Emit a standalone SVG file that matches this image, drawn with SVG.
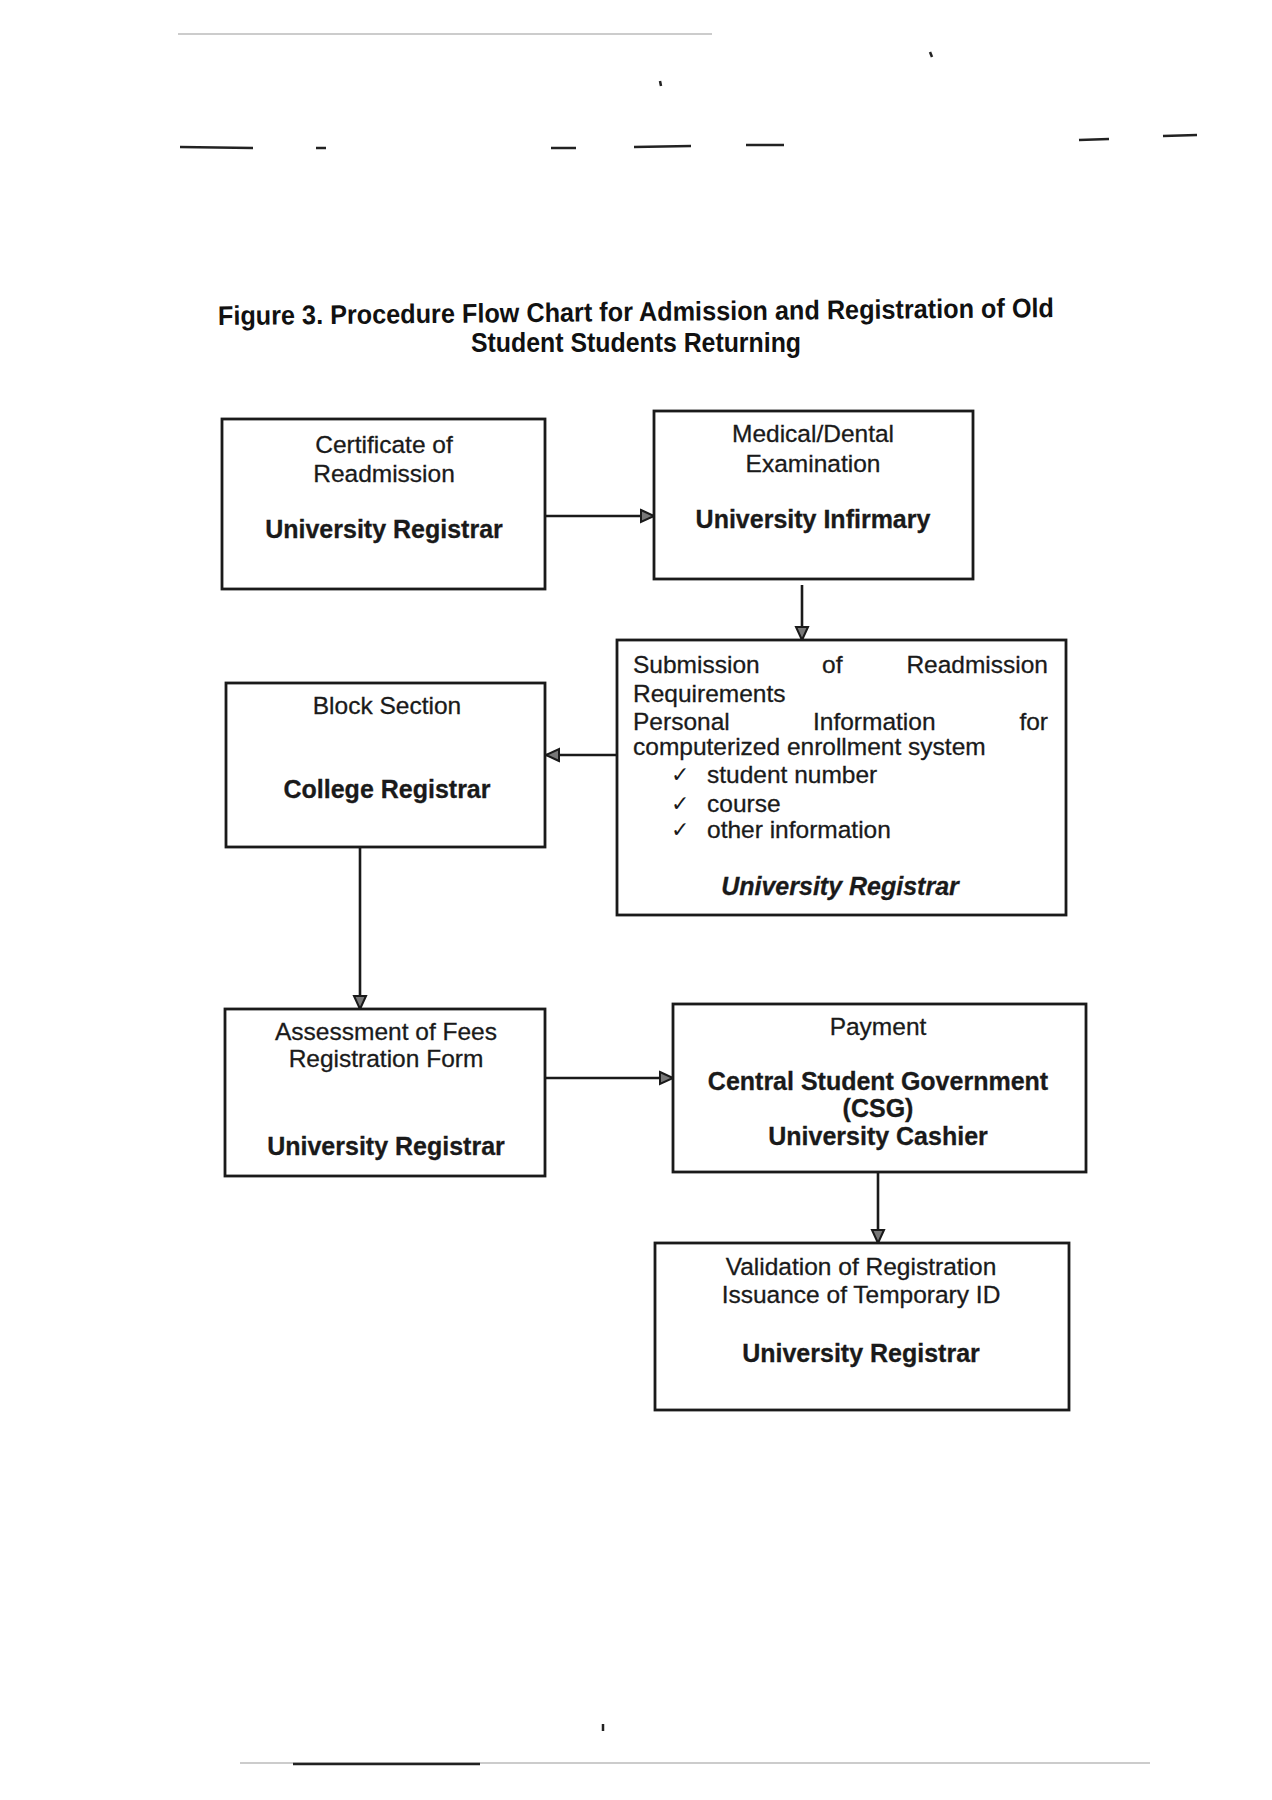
<svg xmlns="http://www.w3.org/2000/svg" width="1272" height="1800" viewBox="0 0 1272 1800">
  <defs>
    <marker id="arrow" markerUnits="userSpaceOnUse" markerWidth="18" markerHeight="18" refX="14" refY="8" orient="auto">
      <path d="M1,2 L14,8 L1,14 Z" fill="#777" stroke="#1a1a1a" stroke-width="2"/>
    </marker>
    <style>
      .box { fill: #ffffff; stroke: #1a1a1a; stroke-width: 2.8; }
      .t { font-family: "Liberation Sans", Arial, sans-serif; font-size: 24.5px; fill: #1a1a1a; stroke: #1a1a1a; stroke-width: 0.3; }
      .tc { text-anchor: middle; }
      .b { font-weight: bold; font-size: 25px; }
      .i { font-style: italic; }
      .chk { font-family: "DejaVu Sans", sans-serif; font-size: 22px; fill: #1a1a1a; }
      .title { font-family: "Liberation Sans", Arial, sans-serif; font-weight: bold; font-size: 27px; fill: #111; text-anchor: middle; }
      .conn { stroke: #1a1a1a; stroke-width: 2.6; fill: none; marker-end: url(#arrow); }
      .mark { stroke: #222; stroke-width: 2.5; fill: none; }
      .faint { stroke: #bbb; stroke-width: 1.5; fill: none; }
    </style>
  </defs>
  <rect width="1272" height="1800" fill="#ffffff"/>

  <g id="scan-marks">
    <line class="faint" x1="178" y1="34" x2="712" y2="34"/>
    <line class="mark" x1="180" y1="147" x2="253" y2="148"/>
    <line class="mark" x1="316" y1="148" x2="326" y2="148"/>
    <line class="mark" x1="551" y1="148" x2="576" y2="148"/>
    <line class="mark" x1="634" y1="147" x2="691" y2="146"/>
    <line class="mark" x1="746" y1="145" x2="784" y2="145"/>
    <line class="mark" x1="1079" y1="140" x2="1109" y2="139"/>
    <line class="mark" x1="1163" y1="136" x2="1197" y2="135"/>
    <line class="mark" x1="930" y1="52" x2="932" y2="57"/>
    <line class="mark" x1="660" y1="81" x2="661" y2="86"/>
    <line class="faint" x1="240" y1="1763" x2="1150" y2="1763"/>
    <line class="mark" x1="293" y1="1764" x2="480" y2="1764"/>
    <line class="mark" x1="603" y1="1724" x2="603" y2="1731"/>
  </g>

  <g id="title">
    <text class="title" x="636" y="321" textLength="836" lengthAdjust="spacingAndGlyphs" transform="rotate(-0.55 636 321)">Figure 3. Procedure Flow Chart for Admission and Registration of Old</text>
    <text class="title" x="636" y="352" textLength="330" lengthAdjust="spacingAndGlyphs">Student Students Returning</text>
  </g>

  <g id="connectors">
    <line class="conn" x1="545" y1="516" x2="654" y2="516"/>
    <line class="conn" x1="802" y1="585" x2="802" y2="640"/>
    <line class="conn" x1="617" y1="755" x2="546" y2="755"/>
    <line class="conn" x1="360" y1="848" x2="360" y2="1009"/>
    <line class="conn" x1="545" y1="1078" x2="673" y2="1078"/>
    <line class="conn" x1="878" y1="1172" x2="878" y2="1243"/>
  </g>

  <g id="node-certificate">
    <rect class="box" x="222" y="419" width="323" height="170"/>
    <text class="t tc" x="384" y="453">Certificate of</text>
    <text class="t tc" x="384" y="482">Readmission</text>
    <text class="t tc b" x="384" y="538">University Registrar</text>
  </g>

  <g id="node-medical">
    <rect class="box" x="654" y="411" width="319" height="168"/>
    <text class="t tc" x="813" y="442">Medical/Dental</text>
    <text class="t tc" x="813" y="472">Examination</text>
    <text class="t tc b" x="813" y="528">University Infirmary</text>
  </g>

  <g id="node-submission">
    <rect class="box" x="617" y="640" width="449" height="275"/>
    <text class="t" y="673"><tspan x="633">Submission</tspan><tspan x="822">of</tspan><tspan x="1048" text-anchor="end">Readmission</tspan></text>
    <text class="t" x="633" y="702">Requirements</text>
    <text class="t" y="730"><tspan x="633">Personal</tspan><tspan x="813">Information</tspan><tspan x="1048" text-anchor="end">for</tspan></text>
    <text class="t" x="633" y="755">computerized enrollment system</text>
    <text class="chk" x="671" y="782">✓</text>
    <text class="t" x="707" y="783">student number</text>
    <text class="chk" x="671" y="811">✓</text>
    <text class="t" x="707" y="812">course</text>
    <text class="chk" x="671" y="837">✓</text>
    <text class="t" x="707" y="838">other information</text>
    <text class="t tc b i" x="840" y="895">University Registrar</text>
  </g>

  <g id="node-block">
    <rect class="box" x="226" y="683" width="319" height="164"/>
    <text class="t tc" x="387" y="714">Block Section</text>
    <text class="t tc b" x="387" y="798">College Registrar</text>
  </g>

  <g id="node-assessment">
    <rect class="box" x="225" y="1009" width="320" height="167"/>
    <text class="t tc" x="386" y="1040">Assessment of Fees</text>
    <text class="t tc" x="386" y="1067">Registration Form</text>
    <text class="t tc b" x="386" y="1155">University Registrar</text>
  </g>

  <g id="node-payment">
    <rect class="box" x="673" y="1004" width="413" height="168"/>
    <text class="t tc" x="878" y="1035">Payment</text>
    <text class="t tc b" x="878" y="1090">Central Student Government</text>
    <text class="t tc b" x="878" y="1117">(CSG)</text>
    <text class="t tc b" x="878" y="1145">University Cashier</text>
  </g>

  <g id="node-validation">
    <rect class="box" x="655" y="1243" width="414" height="167"/>
    <text class="t tc" x="861" y="1275">Validation of Registration</text>
    <text class="t tc" x="861" y="1303">Issuance of Temporary ID</text>
    <text class="t tc b" x="861" y="1362">University Registrar</text>
  </g>
</svg>
